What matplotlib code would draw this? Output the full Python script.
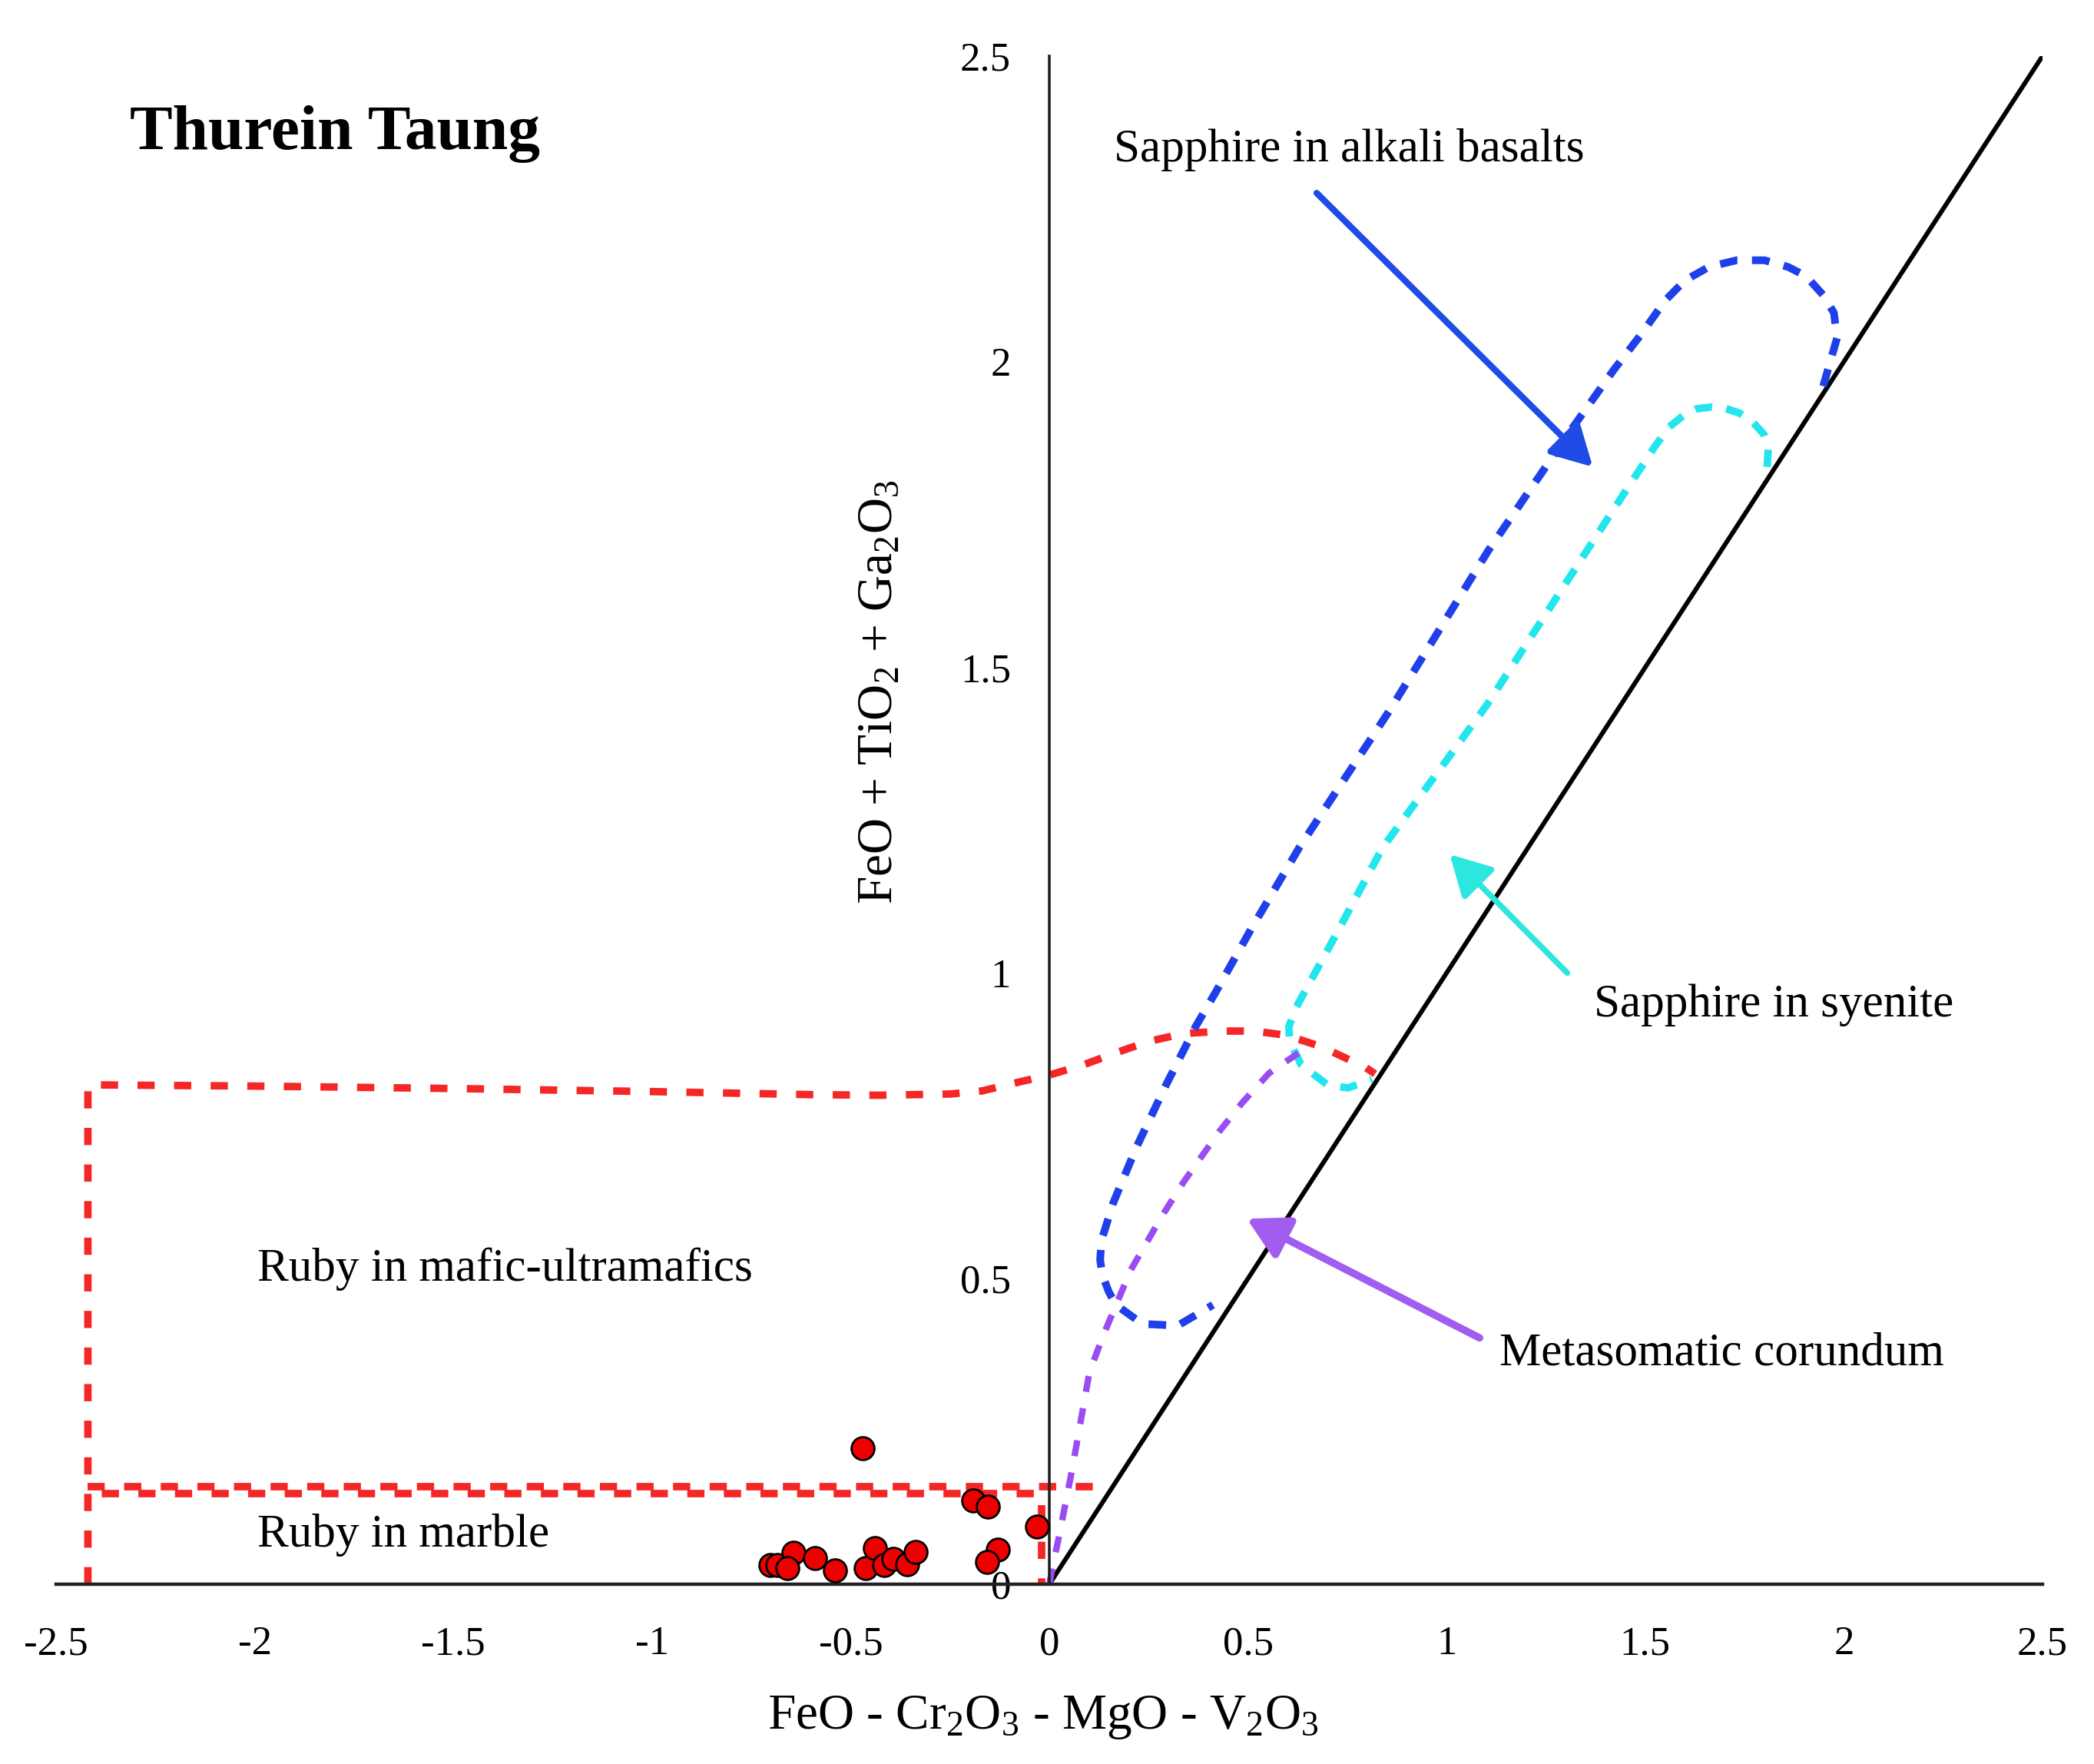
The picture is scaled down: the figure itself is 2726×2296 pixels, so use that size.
import matplotlib
matplotlib.use("Agg")
import matplotlib.pyplot as plt
import numpy as np

plt.rcParams["font.family"] = ["Liberation Serif", "DejaVu Serif"]
plt.rcParams["mathtext.fontset"] = "custom"
plt.rcParams["mathtext.rm"] = "Liberation Serif"
plt.rcParams["mathtext.it"] = "Liberation Serif:italic"
plt.rcParams["axes.unicode_minus"] = False

# ruby samples (Thurein Taung)
sample_x = [-0.469, -0.191, -0.155, -0.030, -0.130, -0.157, -0.702, -0.684, -0.644,
            -0.660, -0.589, -0.540, -0.463, -0.438, -0.416, -0.392, -0.358, -0.336]
sample_y = [0.222, 0.137, 0.127, 0.094, 0.057, 0.037, 0.032, 0.032, 0.051,
            0.026, 0.043, 0.023, 0.026, 0.059, 0.031, 0.042, 0.033, 0.053]

# field boundaries
mafic_x = [-2.42, -2.42, -2.0, -1.5, -1.0, -0.6, -0.43, -0.25, -0.17, -0.087, 0.0,
           0.087, 0.17, 0.25, 0.338, 0.44, 0.516, 0.598, 0.687, 0.797, 0.82]
mafic_y = [0.0, 0.817, 0.815, 0.811, 0.806, 0.801, 0.800, 0.802, 0.807, 0.820, 0.833,
           0.850, 0.870, 0.888, 0.901, 0.905, 0.905, 0.898, 0.879, 0.845, 0.835]

marble_top_x = [-2.42, 0.137]
marble_top_y = [0.160, 0.160]
marble_low_x = [-2.42, -0.02, -0.02]
marble_low_y = [0.148, 0.148, 0.0]

basalt_x = [1.948, 1.983, 1.975, 1.948, 1.905, 1.860, 1.800, 1.730, 1.660, 1.600, 1.550,
            1.490, 1.420, 1.315, 1.104, 0.857, 0.629, 0.509, 0.420, 0.368, 0.294, 0.220,
            0.161, 0.131, 0.128, 0.134, 0.150, 0.168, 0.234, 0.323, 0.412]
basalt_y = [1.960, 2.039, 2.080, 2.109, 2.140, 2.155, 2.166, 2.166, 2.155, 2.133, 2.100,
            2.045, 1.986, 1.890, 1.690, 1.430, 1.205, 1.073, 0.970, 0.912, 0.817, 0.716,
            0.624, 0.562, 0.530, 0.505, 0.478, 0.457, 0.426, 0.423, 0.457]

syenite_x = [1.807, 1.810, 1.799, 1.770, 1.737, 1.700, 1.667, 1.630, 1.596, 1.560, 1.526,
             1.420, 1.104, 0.839, 0.716, 0.619, 0.603, 0.605, 0.634, 0.700, 0.752, 0.812]
syenite_y = [1.828, 1.860, 1.881, 1.902, 1.916, 1.924, 1.926, 1.923, 1.912, 1.893, 1.863,
             1.758, 1.441, 1.205, 1.056, 0.941, 0.912, 0.888, 0.850, 0.817, 0.812, 0.826]

meta_x = [0.0, 0.012, 0.024, 0.040, 0.057, 0.080, 0.101, 0.137, 0.205, 0.286, 0.338,
          0.427, 0.486, 0.553, 0.627]
meta_y = [0.0, 0.040, 0.077, 0.130, 0.186, 0.270, 0.347, 0.409, 0.514, 0.605, 0.658,
          0.740, 0.788, 0.836, 0.869]

boundary_x = [0.0, 2.5]
boundary_y = [0.0, 2.5]

xticks = [-2.5, -2, -1.5, -1, -0.5, 0, 0.5, 1, 1.5, 2, 2.5]
xtick_labels = ["-2.5", "-2", "-1.5", "-1", "-0.5", "0", "0.5", "1", "1.5", "2", "2.5"]
yticks = [0, 0.5, 1, 1.5, 2, 2.5]
ytick_labels = ["0", "0.5", "1", "1.5", "2", "2.5"]

RED = "#f52626"
BLUE = "#1f3fea"
CYAN = "#22e6ee"
PURPLE = "#9a4cf2"

fig = plt.figure(figsize=(27.26, 22.96), dpi=100)
ax = fig.add_axes([0.0268, 0.1019, 0.9486, 0.8663])

ax.plot(boundary_x, boundary_y, color="black", lw=4.3, solid_capstyle="butt")

ax.plot(mafic_x, mafic_y, color=RED, lw=7, dashes=(2.3, 2.6))
ax.plot(marble_top_x, marble_top_y, color=RED, lw=7, dashes=(2.3, 2.6))
ax.plot(marble_low_x, marble_low_y, color=RED, lw=7, linestyle=(3.0, (2.3, 2.6)))

ax.plot(basalt_x, basalt_y, color=BLUE, lw=7.2, dashes=(2.3, 1.9))
ax.plot(syenite_x, syenite_y, color=CYAN, lw=7, dashes=(2.3, 1.9))
ax.plot(meta_x, meta_y, color=PURPLE, lw=6, dashes=(2.5, 2.6))

ax.scatter(sample_x, sample_y, s=460, facecolor="#ee0000", edgecolor="black",
           linewidth=2.0, zorder=5)

# labels with arrows
arrow_kw = dict(arrowstyle="-|>,head_length=0.4,head_width=0.22",
                mutation_scale=80, shrinkA=0, shrinkB=0)
ax.annotate("", xy=(1.368, 1.828), xytext=(0.673, 2.276),
            arrowprops=dict(color="#1f4be6", lw=6, **arrow_kw))
ax.annotate("", xy=(1.008, 1.194), xytext=(1.304, 1.0),
            arrowprops=dict(color="#2ee6e0", lw=5.5, **arrow_kw))
ax.annotate("", xy=(0.497, 0.598), xytext=(1.083, 0.403),
            arrowprops=dict(color="#a35cf0", lw=7, **arrow_kw))

ax.text(0.162, 2.347, "Sapphire in alkali basalts", fontsize=44, ha="left", va="center")
ax.text(1.37, 0.948, "Sapphire in syenite", fontsize=44, ha="left", va="center")
ax.text(1.133, 0.377, "Metasomatic corundum", fontsize=44, ha="left", va="center")
ax.text(-1.994, 0.516, "Ruby in mafic-ultramafics", fontsize=44, ha="left", va="center")
ax.text(-1.994, 0.081, "Ruby in marble", fontsize=44, ha="left", va="center")
ax.text(-2.315, 2.348, "Thurein Taung", fontsize=60, fontweight="bold",
        ha="left", va="baseline")

ax.set_xlim(-2.5, 2.5)
ax.set_ylim(0, 2.5)
ax.spines["left"].set_position(("data", 0))
ax.spines["top"].set_visible(False)
ax.spines["right"].set_visible(False)
ax.spines["left"].set_linewidth(2.6)
ax.spines["left"].set_color("#222222")
ax.spines["bottom"].set_linewidth(3.2)
ax.spines["bottom"].set_color("#222222")

ax.set_xticks(xticks)
ax.set_xticklabels(xtick_labels)
ax.set_yticks(yticks)
ax.set_yticklabels(ytick_labels)
ax.tick_params(axis="x", length=0, pad=39, labelsize=38)
ax.tick_params(axis="y", length=0, pad=36, labelsize=38)

ax.set_xlabel("FeO - Cr$_2$O$_3$ - MgO - V$_2$O$_3$", fontsize=47)
ax.xaxis.set_label_coords(0.497, -0.087)
ax.set_ylabel("FeO + TiO$_2$ + Ga$_2$O$_3$", fontsize=47)
ax.yaxis.set_label_coords(0.4145, 0.584)
ax.xaxis.label.set_va("center")
ax.yaxis.label.set_va("center")

fig.savefig("out.png", dpi=100, facecolor="white")
